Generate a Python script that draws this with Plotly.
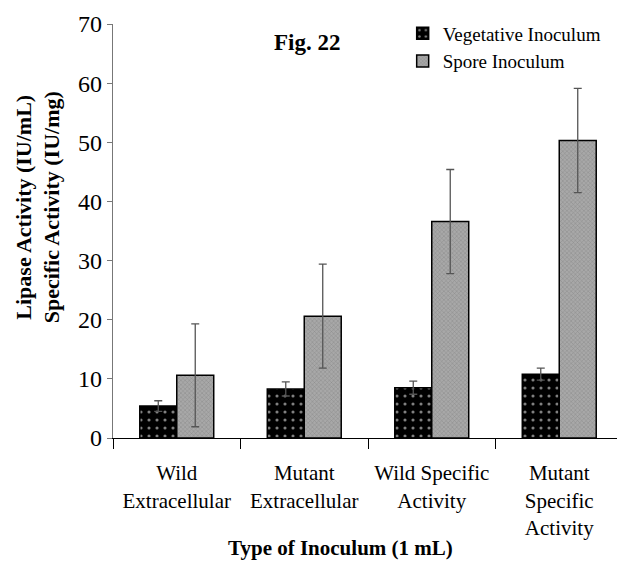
import plotly.graph_objects as go

categories = ["Wild<br>Extracellular", "Mutant<br>Extracellular", "Wild Specific<br>Activity", "Mutant<br>Specific<br>Activity"]
vegetative = [5.4, 8.3, 8.5, 10.8]
vegetative_err = [0.9, 1.2, 1.1, 1.0]
spore = [10.6, 20.6, 36.6, 50.3]
spore_err = [8.7, 8.8, 8.8, 8.8]
y_ticks = [0, 10, 20, 30, 40, 50, 60, 70]

FONT = "Liberation Serif"

fig = go.Figure()
fig.add_trace(go.Bar(
    name="Vegetative Inoculum", x=categories, y=vegetative,
    marker=dict(color="black", line=dict(color="black", width=1.5),
                pattern=dict(shape=".", bgcolor="black", fgcolor="white", size=8, solidity=0.12, fillmode="overlay")),
    error_y=dict(type="data", array=vegetative_err, color="#555555", thickness=1.3, width=4),
))
fig.add_trace(go.Bar(
    name="Spore Inoculum", x=categories, y=spore,
    marker=dict(color="#a8a8a8", line=dict(color="black", width=1.5),
                pattern=dict(shape="x", bgcolor="#a8a8a8", fgcolor="#6a6a6a", size=3, solidity=0.3, fillmode="overlay")),
    error_y=dict(type="data", array=spore_err, color="#555555", thickness=1.3, width=4),
))

fig.update_layout(
    width=625, height=572,
    margin=dict(l=105, r=10, t=16, b=142, autoexpand=False),
    plot_bgcolor="white", paper_bgcolor="white",
    barmode="group", bargap=0.42, bargroupgap=0,
    font=dict(family=FONT, size=20, color="black"),
    showlegend=True,
    legend=dict(x=0.568, y=1.023, xanchor="left", yanchor="top",
                font=dict(family=FONT, size=19), bgcolor="rgba(0,0,0,0)",
                tracegroupgap=0, itemwidth=30),
    xaxis=dict(showline=True, linecolor="black", linewidth=1.3, automargin=False,
               ticks="outside", tickson="boundaries", ticklen=10, tickcolor="black",
               tickfont=dict(family=FONT, size=21), showgrid=False, ticklabelstandoff=16),
    yaxis=dict(range=[0, 70], tickvals=y_ticks, showline=True, linecolor="#777777", linewidth=1.3,
               automargin=False,
               ticks="outside", ticklen=5, tickcolor="#777777", showgrid=False, zeroline=False,
               tickfont=dict(family=FONT, size=24)),
)

fig.add_annotation(text="<b>Fig. 22</b>", xref="paper", yref="paper", x=0.38, y=0.955,
                   xanchor="center", yanchor="middle",
                   showarrow=False, font=dict(family=FONT, size=23))
fig.add_annotation(text="<b>Type of Inoculum (1 mL)</b>", xref="paper", yref="paper",
                   x=0.447, y=-0.266, xanchor="center", yanchor="middle", showarrow=False,
                   font=dict(family=FONT, size=21))
fig.add_annotation(text="<b>Lipase Activity (IU/mL)<br>Specific Activity (IU/mg)</b>",
                   xref="paper", yref="paper", x=-0.148, y=0.556, textangle=-90,
                   xanchor="center", yanchor="middle",
                   showarrow=False, font=dict(family=FONT, size=22))

fig.write_html("out.html")
